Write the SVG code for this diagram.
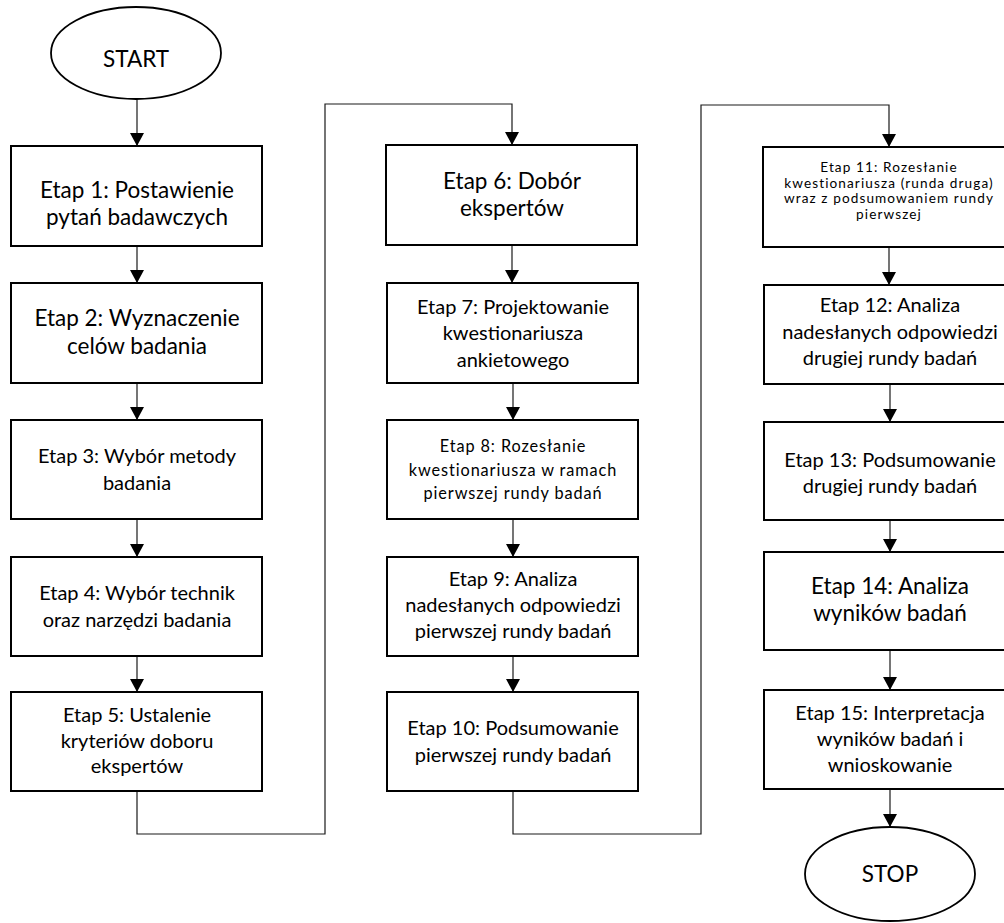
<svg xmlns="http://www.w3.org/2000/svg" width="1004" height="923" viewBox="0 0 1004 923">
  <style>
    .box { fill: #fff; stroke: #000; stroke-width: 2; }
    .term { fill: #fff; stroke: #000; stroke-width: 1.8; }
    .wire { fill: none; stroke: #1a1a1a; stroke-width: 1.2; }
    text { font-family: Lato, "Liberation Sans", sans-serif; fill: #000; text-anchor: middle; }
    .lg { font-size: 22.5px; }
    .md { font-size: 20px; }
    .sm { font-size: 16.3px; letter-spacing: 0.9px; }
    .xs { font-size: 13.6px; letter-spacing: 1.1px; }
  </style>
  <defs>
    <marker id="arrow" markerUnits="userSpaceOnUse" markerWidth="14" markerHeight="14" refX="13" refY="7" orient="auto">
      <path d="M0,0 L13,7 L0,14 Z" fill="#000"/>
    </marker>
  </defs>
  <rect width="1004" height="923" fill="#fff"/>

  <!-- connectors -->
  <g id="connectors" class="wire" marker-end="url(#arrow)">
    <path d="M137,99 V146"/>
    <path d="M137,246 V283"/>
    <path d="M137,383 V420"/>
    <path d="M137,519 V557"/>
    <path d="M137,656 V692"/>
    <path d="M137,791 V834 H325 V104 H512 V145"/>
    <path d="M512,245 V283"/>
    <path d="M513,383 V420"/>
    <path d="M513,519 V557"/>
    <path d="M513,656 V692"/>
    <path d="M513,791 V834 H701 V105 H889 V147"/>
    <path d="M889,247 V285"/>
    <path d="M890,384 V422"/>
    <path d="M890,520 V552"/>
    <path d="M890,650 V690"/>
    <path d="M890,789 V827"/>
  </g>

  <!-- column 1 -->
  <g id="start">
    <ellipse class="term" cx="136" cy="53" rx="85" ry="46"/>
    <text class="lg" x="136" y="67">START</text>
  </g>
  <g id="etap1">
    <rect class="box" x="11" y="146" width="251" height="100"/>
    <text class="lg" x="137" y="198">Etap 1: Postawienie</text>
    <text class="lg" x="137" y="225">pytań badawczych</text>
  </g>
  <g id="etap2">
    <rect class="box" x="11" y="283" width="251" height="100"/>
    <text class="lg" x="137" y="326">Etap 2: Wyznaczenie</text>
    <text class="lg" x="137" y="354">celów badania</text>
  </g>
  <g id="etap3">
    <rect class="box" x="11" y="420" width="251" height="99"/>
    <text class="md" x="137" y="463">Etap 3: Wybór metody</text>
    <text class="md" x="137" y="490">badania</text>
  </g>
  <g id="etap4">
    <rect class="box" x="11" y="557" width="251" height="99"/>
    <text class="md" x="137" y="600">Etap 4: Wybór technik</text>
    <text class="md" x="137" y="627">oraz narzędzi badania</text>
  </g>
  <g id="etap5">
    <rect class="box" x="11" y="692" width="251" height="99"/>
    <text class="md" x="137" y="722">Etap 5: Ustalenie</text>
    <text class="md" x="137" y="748">kryteriów doboru</text>
    <text class="md" x="137" y="773">ekspertów</text>
  </g>

  <!-- column 2 -->
  <g id="etap6">
    <rect class="box" x="386" y="145" width="251" height="100"/>
    <text class="lg" x="512" y="189">Etap 6: Dobór</text>
    <text class="lg" x="512" y="216">ekspertów</text>
  </g>
  <g id="etap7">
    <rect class="box" x="387" y="283" width="251" height="100"/>
    <text class="md" x="513" y="314">Etap 7: Projektowanie</text>
    <text class="md" x="513" y="340">kwestionariusza</text>
    <text class="md" x="513" y="367">ankietowego</text>
  </g>
  <g id="etap8">
    <rect class="box" x="387" y="420" width="251" height="99"/>
    <text class="sm" x="513" y="452">Etap 8: Rozesłanie</text>
    <text class="sm" x="513" y="476">kwestionariusza w ramach</text>
    <text class="sm" x="513" y="499">pierwszej rundy badań</text>
  </g>
  <g id="etap9">
    <rect class="box" x="387" y="557" width="251" height="99"/>
    <text class="md" x="513" y="586">Etap 9: Analiza</text>
    <text class="md" x="513" y="612">nadesłanych odpowiedzi</text>
    <text class="md" x="513" y="638">pierwszej rundy badań</text>
  </g>
  <g id="etap10">
    <rect class="box" x="387" y="692" width="251" height="99"/>
    <text class="md" x="513" y="735">Etap 10: Podsumowanie</text>
    <text class="md" x="513" y="762">pierwszej rundy badań</text>
  </g>

  <!-- column 3 -->
  <g id="etap11">
    <rect class="box" x="763" y="147" width="252" height="100"/>
    <text class="xs" x="889" y="172">Etap 11: Rozesłanie</text>
    <text class="xs" x="889" y="188">kwestionariusza (runda druga)</text>
    <text class="xs" x="889" y="203">wraz z podsumowaniem rundy</text>
    <text class="xs" x="889" y="219">pierwszej</text>
  </g>
  <g id="etap12">
    <rect class="box" x="764" y="285" width="252" height="99"/>
    <text class="md" x="890" y="312">Etap 12: Analiza</text>
    <text class="md" x="890" y="339">nadesłanych odpowiedzi</text>
    <text class="md" x="890" y="365">drugiej rundy badań</text>
  </g>
  <g id="etap13">
    <rect class="box" x="764" y="422" width="252" height="98"/>
    <text class="md" x="890" y="467">Etap 13: Podsumowanie</text>
    <text class="md" x="890" y="493">drugiej rundy badań</text>
  </g>
  <g id="etap14">
    <rect class="box" x="764" y="552" width="252" height="98"/>
    <text class="lg" x="890" y="594">Etap 14: Analiza</text>
    <text class="lg" x="890" y="621">wyników badań</text>
  </g>
  <g id="etap15">
    <rect class="box" x="764" y="690" width="252" height="99"/>
    <text class="md" x="890" y="720">Etap 15: Interpretacja</text>
    <text class="md" x="890" y="746">wyników badań i</text>
    <text class="md" x="890" y="772">wnioskowanie</text>
  </g>
  <g id="stop">
    <ellipse class="term" cx="890" cy="874" rx="85" ry="47"/>
    <text class="lg" x="890" y="882">STOP</text>
  </g>
</svg>
